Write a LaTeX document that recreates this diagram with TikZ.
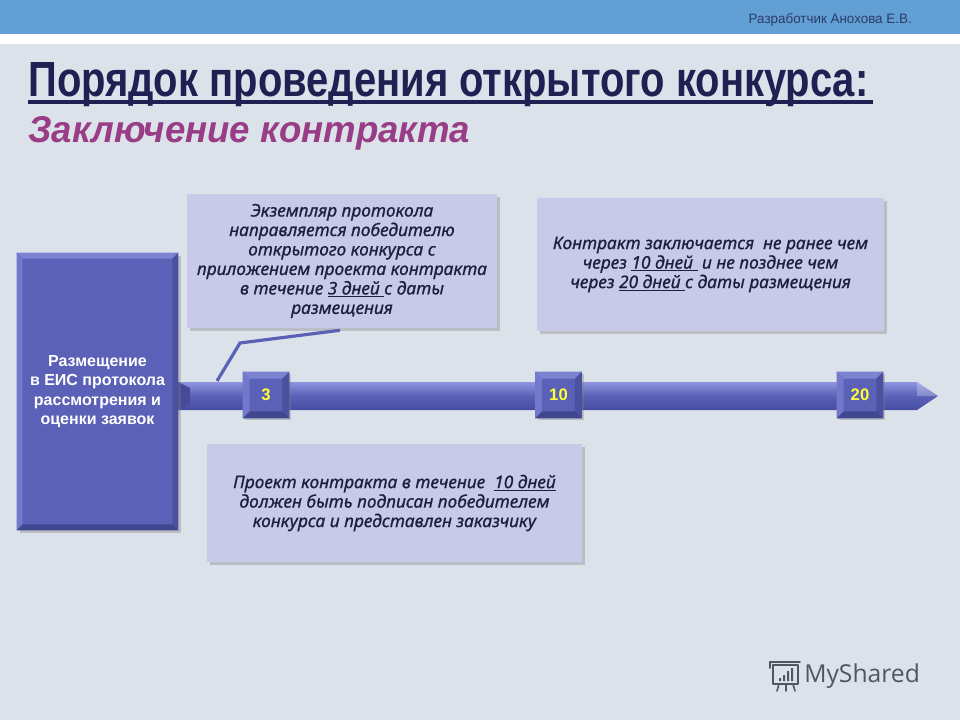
\documentclass[tikz,border=0pt]{standalone}
\usepackage{fontspec}
\setmainfont{Liberation Sans}
\newfontfamily\calfont[FakeBold=0.8]{Noto Sans}
\newfontfamily\logofont{Open Sans}
\usetikzlibrary{shadows,calc}
\definecolor{bgc}{HTML}{DCE2EA}
\definecolor{topbar}{HTML}{629FD4}
\definecolor{authc}{HTML}{2B3B68}
\definecolor{titlec}{HTML}{1F2152}
\definecolor{subc}{HTML}{9A3D87}
\definecolor{boxblue}{HTML}{5A61B6}
\definecolor{boxlight}{HTML}{7C83D2}
\definecolor{boxdark}{HTML}{40468F}
\definecolor{barlight}{HTML}{8F95E0}
\definecolor{bardark}{HTML}{454CA3}
\definecolor{callfill}{HTML}{C9CAE8}
\definecolor{calltext}{HTML}{1E1F3C}
\definecolor{numyellow}{HTML}{FFFF33}
\definecolor{logoc}{HTML}{4E5861}
\newcommand\bevelit[2]{%
  \fill[boxlight] (#1.north west) -- (#1.north east) -- ($(#1.north east)+(-#2,#2)$) -- ($(#1.north west)+(#2,#2)$) -- cycle;
  \fill[boxlight!70!boxblue] (#1.north west) -- ($(#1.north west)+(#2,#2)$) -- ($(#1.south west)+(#2,-#2)$) -- (#1.south west) -- cycle;
  \fill[boxdark!60!boxblue] (#1.north east) -- ($(#1.north east)+(-#2,#2)$) -- ($(#1.south east)+(-#2,-#2)$) -- (#1.south east) -- cycle;
  \fill[boxdark] (#1.south west) -- ($(#1.south west)+(#2,-#2)$) -- ($(#1.south east)+(-#2,-#2)$) -- (#1.south east) -- cycle;
}
\begin{document}
\begin{tikzpicture}[x=0.75pt,y=-0.75pt,
  lbox/.style={fill=boxblue, inner sep=0, minimum width=120.75pt, minimum height=207.75pt,
    align=center, text=white, font=\bfseries\fontsize{12}{14.6}\selectfont,
    drop shadow={shadow xshift=2pt, shadow yshift=-2pt, opacity=0.35}},
  sq/.style={fill=boxblue, inner sep=0, minimum size=34.5pt,
    drop shadow={shadow xshift=1.5pt, shadow yshift=-1.5pt, opacity=0.35}},
  numtxt/.style={text=numyellow, font=\bfseries\fontsize{12.5}{14}\selectfont, inner sep=0},
  callbox/.style={fill=callfill, inner sep=0, align=center, text=calltext,
    font=\calfont\itshape\fontsize{13}{14.6}\selectfont,
    drop shadow={shadow xshift=2pt, shadow yshift=-2pt, opacity=0.35}},
  link/.style={boxblue, line width=2.4pt}
]
\useasboundingbox (0,0) rectangle (960,720);
\fill[bgc] (0,0) rectangle (960,720);
\fill[topbar] (0,0) rectangle (960,34);
\fill[white] (0,34) rectangle (960,44);

\node[anchor=base east, text=authc, inner sep=0] (author) at (912,24)
  {\resizebox{122.25pt}{7.5pt}{Разработчик Анохова Е.В.}};

\node[anchor=base west, inner sep=0, text=titlec] (title) at (28,97)
  {\resizebox{630pt}{25.5pt}{\bfseries Порядок проведения открытого конкурса:}};
\draw[titlec, line width=3pt] (28,102.5) -- (873,102.5);
\node[anchor=base west, inner sep=0, text=subc] (subtitle) at (28,143)
  {\resizebox{331.5pt}{19.5pt}{\bfseries\itshape Заключение контракта}};

% callouts
\node[callbox, minimum width=232.5pt, minimum height=100.5pt] (c1) at (342,261)
  {Экземпляр протокола\\направляется победителю\\открытого конкурса с\\приложением проекта контракта\\в течение \underline{3 дней }с даты\\размещения};
\node[callbox, minimum width=260.25pt, minimum height=99.75pt] (c2) at (710.5,264.5)
  {Контракт заключается\ \ не ранее чем\\через \underline{\textbf{10 дней }} и не позднее чем\\через \underline{\textbf{20 дней }}с даты размещения};
\node[callbox, minimum width=281.25pt, minimum height=88.5pt] (c3) at (394.5,503)
  {Проект контракта в течение\ \ \underline{10 дней}\\должен быть подписан победителем\\конкурса и представлен заказчику};

% connector
\coordinate (k1) at (240,343);
\coordinate (k2) at (217,381);
\draw[link] ($(c1.south)+(-2,2)$) -- (k1) -- (k2);

% timeline bar
\shade[top color=barlight, bottom color=bardark, middle color=boxblue]
  (178,382) -- (917,382) -- (938,396) -- (917,410) -- (178,410) -- cycle;
\fill[boxdark!80!boxblue] (178,382) -- (190,388) -- (190,404) -- (178,410) -- cycle;
\fill[white, opacity=0.25] (917,382) -- (938,396) -- (917,396) -- cycle;

% left box
\node[lbox] (place) at (97.5,391.5)
  {Размещение\\в ЕИС протокола\\рассмотрения и\\оценки заявок};
\bevelit{place}{6}

% squares
\node[sq] (s3) at (266,395) {};
\bevelit{s3}{7}
\node[numtxt] (n3) at (s3.center) {3};
\node[sq] (s10) at (558.5,395) {};
\bevelit{s10}{7}
\node[numtxt] (n10) at (s10.center) {10};
\node[sq] (s20) at (860,395) {};
\bevelit{s20}{7}
\node[numtxt] (n20) at (s20.center) {20};

% logo
\node[anchor=west, text=logoc, font=\logofont\fontsize{18.5}{22}\selectfont, inner sep=0] (logo) at (804,676) {MyShared};
\draw[logoc, line width=1.4pt, line join=round] (773,665) rectangle (798,684);
\draw[logoc, line width=1.4pt, line cap=round] (770,662) -- (800,662);
\draw[logoc, line width=1.4pt, line cap=round] (770,662) -- (770,668);
\fill[logoc] (779,678) rectangle (781,681) (783,675) rectangle (785,681) (787,671) rectangle (789,681) (791,668) rectangle (793,681);
\draw[logoc, line width=1.2pt, line cap=round] (779,684) -- (777,691) (786,684) -- (786,691) (793,684) -- (795,691);
\end{tikzpicture}
\end{document}
